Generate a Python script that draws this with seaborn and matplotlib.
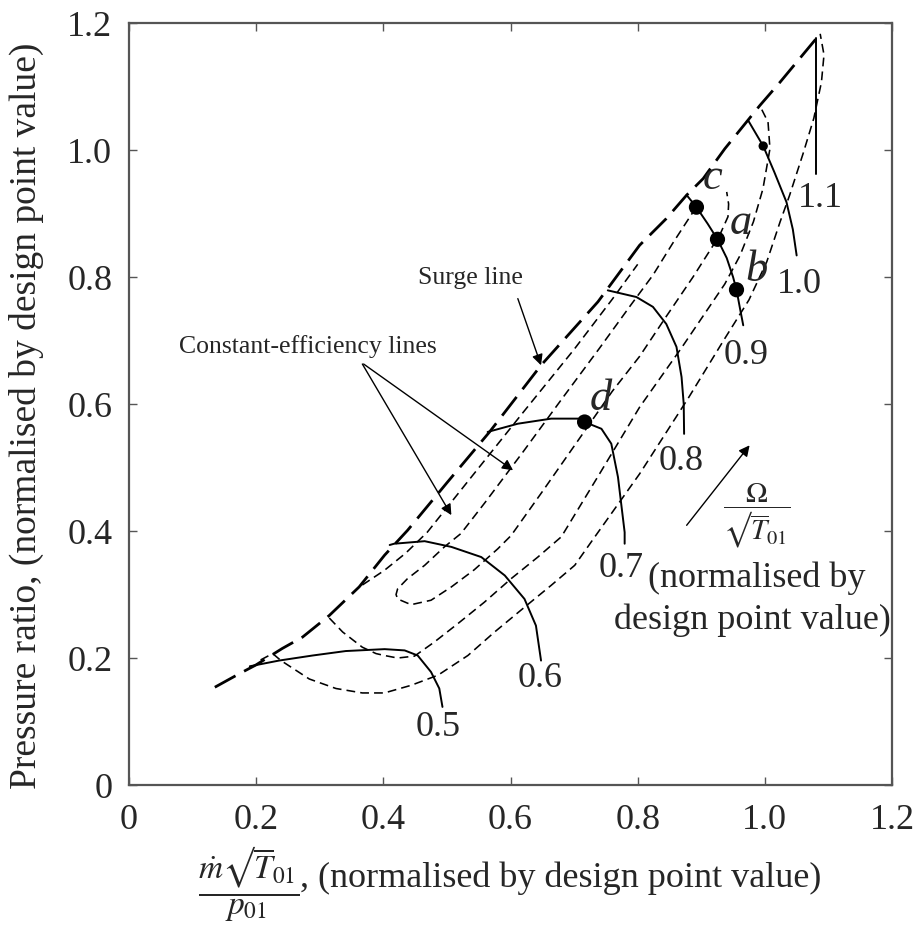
import matplotlib
matplotlib.use('Agg')
from matplotlib import pyplot as plt
import seaborn as sns

# surge line
surge_x = [0.135, 0.173, 0.1995, 0.241, 0.273, 0.315, 0.362, 0.402, 0.438, 0.50, 0.567,
           0.648, 0.7375, 0.803, 0.845, 0.877, 0.903, 0.937, 0.971, 0.992, 1.024, 1.087]
surge_y = [0.154, 0.175, 0.189, 0.215, 0.233, 0.267, 0.312, 0.362, 0.401, 0.476, 0.556,
           0.661, 0.761, 0.850, 0.892, 0.929, 0.955, 1.002, 1.044, 1.070, 1.107, 1.183]

# constant-efficiency lines
eff_a_x = [0.892, 0.855, 0.824, 0.79, 0.74, 0.68, 0.62, 0.56, 0.522, 0.496, 0.465, 0.438, 0.4225,
           0.42, 0.4225, 0.4436, 0.475, 0.507, 0.543, 0.580, 0.601, 0.65, 0.71, 0.76, 0.803,
           0.845, 0.887, 0.929, 0.942, 0.943, 0.940]
eff_a_y = [0.910, 0.853, 0.803, 0.757, 0.688, 0.607, 0.525, 0.445, 0.396, 0.375, 0.346, 0.325, 0.309,
           0.300, 0.293, 0.284, 0.291, 0.312, 0.339, 0.372, 0.393, 0.462, 0.548, 0.620, 0.675,
           0.738, 0.800, 0.866, 0.895, 0.915, 0.934]
eff_b_left_x = [0.367, 0.4016, 0.435, 0.469, 0.54, 0.62, 0.70, 0.76, 0.80]
eff_b_left_y = [0.315, 0.338, 0.365, 0.398, 0.487, 0.587, 0.686, 0.765, 0.82]
eff_b_right_x = [0.315, 0.336, 0.367, 0.3885, 0.4016, 0.4225, 0.449, 0.480, 0.517, 0.559, 0.601,
                 0.643, 0.680, 0.74, 0.803, 0.87, 0.937, 0.961, 0.982, 0.997, 1.008, 1.005, 0.992]
eff_b_right_y = [0.263, 0.241, 0.217, 0.207, 0.204, 0.200, 0.203, 0.225, 0.254, 0.288, 0.325,
                 0.359, 0.391, 0.49, 0.595, 0.69, 0.789, 0.834, 0.887, 0.939, 1.002, 1.044, 1.070]
eff_c_x = [0.207, 0.226, 0.239, 0.2835, 0.3255, 0.367, 0.4016, 0.4436, 0.486, 0.533, 0.575, 0.622,
           0.664, 0.701, 0.732, 0.803, 0.88, 0.935, 0.975, 1.003, 1.024, 1.039, 1.060, 1.077,
           1.089, 1.093, 1.087]
eff_c_y = [0.197, 0.207, 0.196, 0.167, 0.152, 0.145, 0.145, 0.157, 0.173, 0.204, 0.241, 0.280,
           0.3145, 0.346, 0.390, 0.490, 0.61, 0.70, 0.764, 0.824, 0.887, 0.929, 0.994, 1.05,
           1.107, 1.15, 1.183]

# constant speed lines
speed_labels = ['0.5', '0.6', '0.7', '0.8', '0.9', '1.0', '1.1']
speed_x = [
    [0.19, 0.236, 0.289, 0.341, 0.402, 0.4335, 0.454, 0.475, 0.488, 0.493],
    [0.41, 0.417, 0.465, 0.507, 0.554, 0.591, 0.622, 0.640, 0.648],
    [0.564, 0.6115, 0.664, 0.706, 0.7165, 0.743, 0.7585, 0.769, 0.7795, 0.7795],
    [0.753, 0.798, 0.824, 0.845, 0.861, 0.869, 0.8724, 0.873],
    [0.877, 0.8924, 0.91, 0.9255, 0.94, 0.950, 0.9554, 0.961, 0.966],
    [0.9737, 0.9974, 1.015, 1.034, 1.044, 1.050],
    [1.080, 1.080],
]
speed_y = [
    [0.187, 0.196, 0.204, 0.211, 0.214, 0.212, 0.204, 0.178, 0.152, 0.123],
    [0.378, 0.380, 0.384, 0.375, 0.359, 0.330, 0.293, 0.251, 0.196],
    [0.556, 0.569, 0.577, 0.577, 0.5717, 0.561, 0.5375, 0.485, 0.398, 0.380],
    [0.779, 0.7685, 0.753, 0.726, 0.690, 0.6425, 0.600, 0.553],
    [0.929, 0.910, 0.884, 0.8594, 0.83, 0.80, 0.780, 0.75, 0.724],
    [1.0467, 1.0063, 0.965, 0.918, 0.875, 0.834],
    [1.177, 0.963],
]
speed_label_x = [0.4855, 0.647, 0.774, 0.8685, 0.971, 1.054, 1.0866]
speed_label_y = [0.0965, 0.174, 0.347, 0.5165, 0.6835, 0.795, 0.930]

# operating points
point_names = ['c', 'a', 'b', 'd']
point_x = [0.8924, 0.9255, 0.9554, 0.7165]
point_y = [0.910, 0.8594, 0.780, 0.5717]
point_label_x = [0.902, 0.945, 0.970, 0.7244]
point_label_y = [0.939, 0.8677, 0.7937, 0.5906]
small_dot_x = [0.9974]
small_dot_y = [1.0063]

ticks = [0, 0.2, 0.4, 0.6, 0.8, 1.0, 1.2]
tick_labels = ['0', '0.2', '0.4', '0.6', '0.8', '1.0', '1.2']

sns.set_theme(style='ticks')
plt.rcParams['font.family'] = ['Liberation Serif', 'DejaVu Serif']
plt.rcParams['mathtext.fontset'] = 'stix'

fig = plt.figure(figsize=(9.2, 9.36), dpi=100)
ax = fig.add_axes([0.1402, 0.1613, 0.8294, 0.8141])

eff_style = dict(color='black', lw=1.15, linestyle=(0, (5.5, 3.2)), sort=False, estimator=None, ax=ax)
sns.lineplot(x=surge_x, y=surge_y, color='black', lw=2.0, linestyle=(0, (8.5, 3.5)),
             sort=False, estimator=None, ax=ax)
sns.lineplot(x=eff_a_x, y=eff_a_y, **eff_style)
sns.lineplot(x=eff_b_left_x, y=eff_b_left_y, **eff_style)
sns.lineplot(x=eff_b_right_x, y=eff_b_right_y, **eff_style)
sns.lineplot(x=eff_c_x, y=eff_c_y, **eff_style)

for xs, ys, lab, lx, ly in zip(speed_x, speed_y, speed_labels, speed_label_x, speed_label_y):
    sns.lineplot(x=xs, y=ys, color='black', lw=1.4, sort=False, estimator=None, ax=ax)
    ax.text(lx, ly, lab, fontsize=26, ha='center', va='center_baseline')

sns.scatterplot(x=point_x, y=point_y, s=120, color='black', edgecolor='none', ax=ax, zorder=5)
sns.scatterplot(x=small_dot_x, y=small_dot_y, s=45, color='black', edgecolor='none', ax=ax, zorder=5)
for name, lx, ly in zip(point_names, point_label_x, point_label_y):
    ax.text(lx, ly, name, fontsize=32, style='italic', ha='left', va='baseline')

arrow = dict(arrowstyle='-|>', color='black', lw=1.0, mutation_scale=16, shrinkA=0, shrinkB=0)
ax.text(0.537, 0.798, 'Surge line', fontsize=18.5, ha='center', va='center')
ax.annotate('', xy=(0.648, 0.661), xytext=(0.6115, 0.766), arrowprops=arrow)
ax.text(0.282, 0.691, 'Constant-efficiency lines', fontsize=18.5, ha='center', va='center')
ax.annotate('', xy=(0.507, 0.425), xytext=(0.367, 0.663), arrowprops=arrow)
ax.annotate('', xy=(0.604, 0.4956), xytext=(0.369, 0.663), arrowprops=arrow)
ax.annotate('', xy=(0.976, 0.535), xytext=(0.877, 0.409), arrowprops=arrow)
ax.text(0.9874, 0.4236, '$\\dfrac{\\Omega}{\u221a\\overline{T}_{01}}$', fontsize=21,
        ha='center', va='center')
ax.text(0.8157, 0.326, '(normalised by', fontsize=26, ha='left', va='center')
ax.text(0.981, 0.26, 'design point value)', fontsize=26, ha='center', va='center')

ax.set_xlim(0, 1.2)
ax.set_ylim(0, 1.2)
ax.set_xticks(ticks)
ax.set_xticklabels(tick_labels)
ax.set_yticks(ticks)
ax.set_yticklabels(tick_labels)
ax.tick_params(direction='in', length=6, width=1, color='#555555', labelsize=26,
               top=True, right=True)
ax.tick_params(axis='x', pad=14)
ax.tick_params(axis='y', pad=12)
for sp in ax.spines.values():
    sp.set_color('#555555')
    sp.set_linewidth(1.6)

# x label: fraction and text placed separately, as in the reference
ax.text(0.157, -0.130, '$\\dfrac{\\dot{m}\u221a\\overline{T}_{01}}{p_{01}}$', fontsize=24,
        ha='center', va='center', transform=ax.transAxes)
ax.text(0.2241, -0.1339, ', (normalised by design point value)', fontsize=26,
        ha='left', va='baseline', transform=ax.transAxes)
ax.set_ylabel('Pressure ratio, (normalised by design point value)', fontsize=27,
              va='center', ha='center')
ax.yaxis.set_label_coords(-0.135, 0.484)

fig.savefig('out.png', dpi=100)
